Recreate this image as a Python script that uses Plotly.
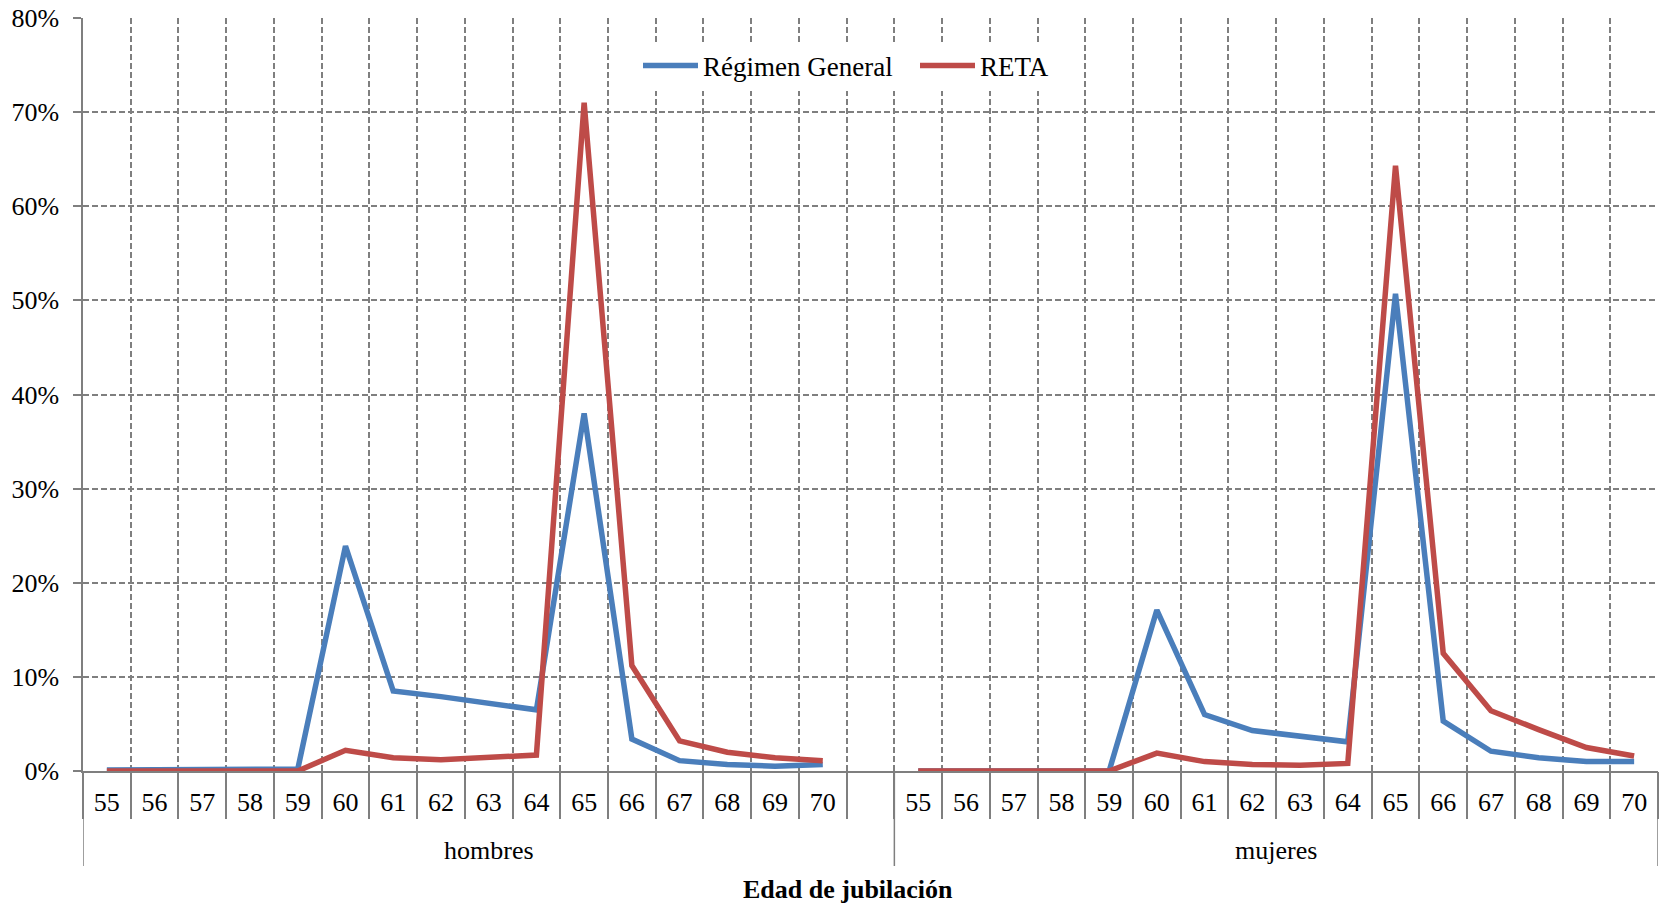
import plotly.graph_objects as go

ages = [55, 56, 57, 58, 59, 60, 61, 62, 63, 64, 65, 66, 67, 68, 69, 70]
groups = ["hombres", "mujeres"]
series_names = ["Régimen General", "RETA"]

hombres_rg = [0.1, 0.1, 0.1, 0.1, 0.2, 23.9, 8.5, 7.9, 7.2, 6.5, 38.0, 3.4, 1.1, 0.7, 0.5, 0.7]
hombres_reta = [0, 0, 0, 0, 0, 2.2, 1.4, 1.2, 1.5, 1.7, 71.0, 11.2, 3.2, 2.0, 1.4, 1.1]
mujeres_rg = [0, 0, 0, 0, 0, 17.1, 6.0, 4.3, 3.7, 3.1, 50.7, 5.3, 2.1, 1.4, 1.0, 1.0]
mujeres_reta = [0, 0, 0, 0, 0, 1.9, 1.0, 0.7, 0.6, 0.8, 64.3, 12.5, 6.4, 4.4, 2.5, 1.6]

y_ticks = [0, 10, 20, 30, 40, 50, 60, 70, 80]

FONT = "Liberation Serif, Times New Roman, Times, serif"
GRAY = "#7F7F7F"
BLUE = "#4A7EBB"
RED = "#BE4B48"

# category slots: hombres (16) + one empty slot + mujeres (16)
n_h = len(ages) + 1
n_total = n_h + len(ages)
centers = [i + 0.5 for i in range(n_total)]
tick_labels = [str(a) for a in ages] + [""] + [str(a) for a in ages]

rg = hombres_rg + [None] + mujeres_rg
reta = hombres_reta + [None] + mujeres_reta

fig = go.Figure()
fig.add_trace(go.Scatter(x=centers, y=rg, mode="lines", name=series_names[0],
                         line=dict(color=BLUE, width=5.5), legend="legend"))
fig.add_trace(go.Scatter(x=centers, y=reta, mode="lines", name=series_names[1],
                         line=dict(color=RED, width=5.5), legend="legend2"))
# invisible trace to activate the boundary axis
fig.add_trace(go.Scatter(x=[0, n_total], y=[None, None], xaxis="x2", showlegend=False,
                         hoverinfo="skip"))

plot_h = 771 - 18
plot_w = 1658 - 83
leg_y = (771 - 66) / plot_h

fig.update_layout(
    width=1667, height=907,
    margin=dict(l=83, r=9, t=18, b=136, autoexpand=False),
    paper_bgcolor="white", plot_bgcolor="white",
    font=dict(family=FONT, size=26, color="black"),
    showlegend=True,
    legend=dict(orientation="h", x=(643 - 5 - 83) / plot_w, xanchor="left", y=leg_y,
                yanchor="middle", bgcolor="white", font=dict(size=27, family=FONT),
                itemwidth=55),
    legend2=dict(orientation="h", x=(920 - 5 - 83) / plot_w, xanchor="left", y=leg_y,
                 yanchor="middle", bgcolor="white", font=dict(size=27, family=FONT),
                 itemwidth=55),
    xaxis=dict(range=[0, n_total], tickmode="array", tickvals=centers, ticktext=tick_labels,
               ticks="", showgrid=False, zeroline=False, showline=True, linecolor=GRAY,
               linewidth=1.5, tickfont=dict(size=26, family=FONT), ticklabelstandoff=7,
               automargin=False, fixedrange=True),
    xaxis2=dict(range=[0, n_total], overlaying="x", side="bottom", tickmode="array",
                tickvals=list(range(n_total + 1)), showticklabels=False, ticks="outside",
                ticklen=47, tickcolor=GRAY, tickwidth=1.5, showgrid=True, gridcolor=GRAY,
                gridwidth=1.6, griddash="6px,3px", zeroline=False, showline=False,
                automargin=False),
    yaxis=dict(range=[0, 80], tickmode="array", tickvals=y_ticks,
               ticktext=[f"{v}%" for v in y_ticks], showgrid=True, gridcolor=GRAY,
               gridwidth=1.6, griddash="6px,3px", zeroline=False, showline=True,
               linecolor=GRAY, linewidth=1.5, ticks="outside", ticklen=8, tickcolor=GRAY,
               tickwidth=1.5, tickfont=dict(size=26, family=FONT), ticklabelstandoff=9,
               automargin=False),
)

# group dividers
for b in [0, n_h, n_total]:
    fig.add_shape(type="line", xref="x", yref="paper", x0=b, x1=b, y0=0,
                  y1=-(866 - 771) / plot_h, line=dict(color=GRAY, width=1.5))

# group labels
group_centers = [n_h / 2, n_h + len(ages) / 2]
for g, c in zip(groups, group_centers):
    fig.add_annotation(x=c, xref="x", y=-(851 - 771) / plot_h, yref="paper", text=g,
                       showarrow=False, font=dict(size=26, family=FONT), yanchor="middle")

fig.add_annotation(x=(848 - 83) / plot_w, xref="paper", y=-(889 - 771) / plot_h, yref="paper",
                   text="<b>Edad de jubilación</b>", showarrow=False,
                   font=dict(size=26, family=FONT), yanchor="middle")

fig.write_html("out.html", config={"displayModeBar": False},
               post_script="document.body.style.margin='0';document.body.style.overflow='hidden';")
